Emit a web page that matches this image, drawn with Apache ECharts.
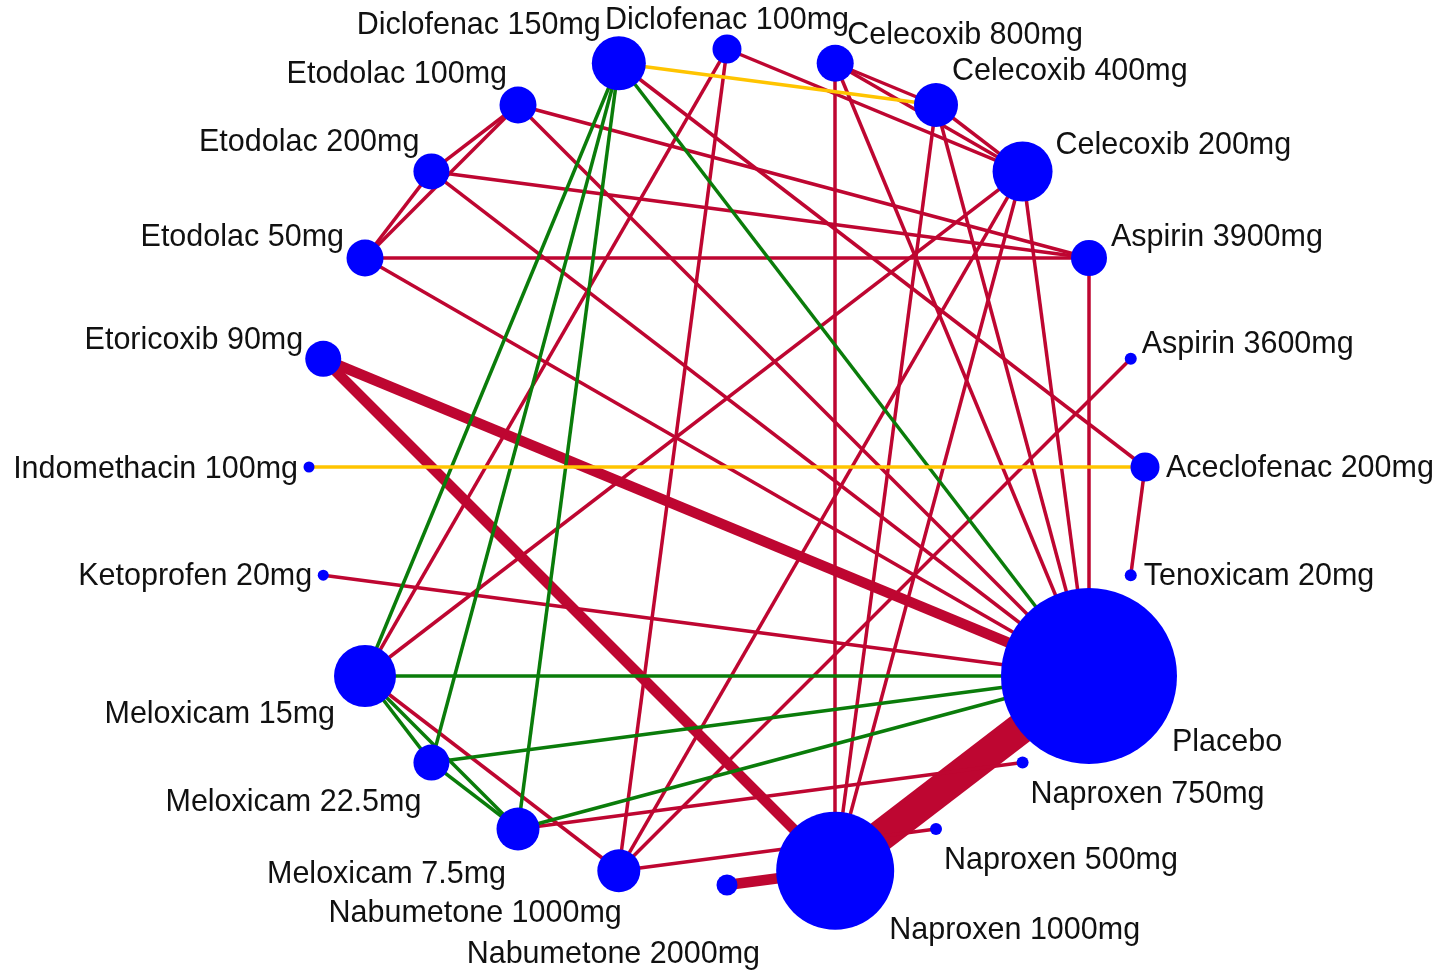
<!DOCTYPE html>
<html>
<head>
<meta charset="utf-8">
<title>Network plot</title>
<script src="https://cdn.jsdelivr.net/npm/echarts@6/dist/echarts.min.js"></script>
<style>
  html, body { margin: 0; padding: 0; background: #fff; }
  #chart { width: 1450px; height: 970px; }
</style>
</head>
<body>
<div id="chart"></div>
<script>
// treatments in order round the circle, clockwise from 3 o'clock
var treatments = [
    'Aceclofenac 200mg', 'Tenoxicam 20mg', 'Placebo', 'Naproxen 750mg',
    'Naproxen 500mg', 'Naproxen 1000mg', 'Nabumetone 2000mg', 'Nabumetone 1000mg',
    'Meloxicam 7.5mg', 'Meloxicam 22.5mg', 'Meloxicam 15mg', 'Ketoprofen 20mg',
    'Indomethacin 100mg', 'Etoricoxib 90mg', 'Etodolac 50mg', 'Etodolac 200mg',
    'Etodolac 100mg', 'Diclofenac 150mg', 'Diclofenac 100mg', 'Celecoxib 800mg',
    'Celecoxib 400mg', 'Celecoxib 200mg', 'Aspirin 3900mg', 'Aspirin 3600mg'
];
// node weight (circle size)
var nodeWeight = [29, 12, 176, 12, 12, 118, 21, 43, 43, 36, 62, 11,
                  11, 36, 37, 36, 37, 54, 29, 37, 44, 60, 36, 12];

// direct comparisons: [from, to, number of studies, group]
var comparisons = [
    ['Naproxen 1000mg', 'Placebo', 9, 'red'],
    ['Etoricoxib 90mg', 'Placebo', 3, 'red'],
    ['Etoricoxib 90mg', 'Naproxen 1000mg', 3, 'red'],
    ['Nabumetone 2000mg', 'Naproxen 1000mg', 3, 'red'],
    ['Aceclofenac 200mg', 'Tenoxicam 20mg', 1, 'red'],
    ['Diclofenac 150mg', 'Aceclofenac 200mg', 1, 'red'],
    ['Meloxicam 15mg', 'Nabumetone 1000mg', 1, 'red'],
    ['Meloxicam 15mg', 'Diclofenac 100mg', 1, 'red'],
    ['Meloxicam 15mg', 'Celecoxib 200mg', 1, 'red'],
    ['Meloxicam 7.5mg', 'Naproxen 750mg', 1, 'red'],
    ['Nabumetone 1000mg', 'Diclofenac 100mg', 1, 'red'],
    ['Nabumetone 1000mg', 'Celecoxib 200mg', 1, 'red'],
    ['Nabumetone 1000mg', 'Aspirin 3600mg', 1, 'red'],
    ['Nabumetone 1000mg', 'Naproxen 500mg', 1, 'red'],
    ['Naproxen 1000mg', 'Celecoxib 800mg', 1, 'red'],
    ['Naproxen 1000mg', 'Celecoxib 400mg', 1, 'red'],
    ['Naproxen 1000mg', 'Celecoxib 200mg', 1, 'red'],
    ['Placebo', 'Celecoxib 800mg', 1, 'red'],
    ['Placebo', 'Celecoxib 400mg', 1, 'red'],
    ['Placebo', 'Celecoxib 200mg', 1, 'red'],
    ['Placebo', 'Aspirin 3900mg', 1, 'red'],
    ['Placebo', 'Ketoprofen 20mg', 1, 'red'],
    ['Placebo', 'Etodolac 50mg', 1, 'red'],
    ['Placebo', 'Etodolac 200mg', 1, 'red'],
    ['Placebo', 'Etodolac 100mg', 1, 'red'],
    ['Etodolac 50mg', 'Etodolac 200mg', 1, 'red'],
    ['Etodolac 50mg', 'Etodolac 100mg', 1, 'red'],
    ['Etodolac 200mg', 'Etodolac 100mg', 1, 'red'],
    ['Etodolac 50mg', 'Aspirin 3900mg', 1, 'red'],
    ['Etodolac 200mg', 'Aspirin 3900mg', 1, 'red'],
    ['Etodolac 100mg', 'Aspirin 3900mg', 1, 'red'],
    ['Diclofenac 100mg', 'Celecoxib 200mg', 1, 'red'],
    ['Celecoxib 800mg', 'Celecoxib 400mg', 1, 'red'],
    ['Celecoxib 800mg', 'Celecoxib 200mg', 1, 'red'],
    ['Celecoxib 400mg', 'Celecoxib 200mg', 1, 'red'],
    ['Diclofenac 150mg', 'Meloxicam 15mg', 1, 'green'],
    ['Diclofenac 150mg', 'Meloxicam 22.5mg', 1, 'green'],
    ['Diclofenac 150mg', 'Meloxicam 7.5mg', 1, 'green'],
    ['Diclofenac 150mg', 'Placebo', 1, 'green'],
    ['Meloxicam 15mg', 'Placebo', 1, 'green'],
    ['Meloxicam 22.5mg', 'Placebo', 1, 'green'],
    ['Meloxicam 7.5mg', 'Placebo', 1, 'green'],
    ['Meloxicam 15mg', 'Meloxicam 22.5mg', 1, 'green'],
    ['Meloxicam 15mg', 'Meloxicam 7.5mg', 1, 'green'],
    ['Meloxicam 22.5mg', 'Meloxicam 7.5mg', 1, 'green'],
    ['Indomethacin 100mg', 'Aceclofenac 200mg', 1, 'yellow'],
    ['Diclofenac 150mg', 'Celecoxib 400mg', 1, 'yellow']
];

// styles
var groupColor = { red: '#BE0631', green: '#0A7C0A', yellow: '#FFC400' };
var widthPerStudy = 3.5;
// label anchor: [align, dx, dy] from node centre
var labelPlace = {
    'Aceclofenac 200mg': ['left', 21, 2],
    'Tenoxicam 20mg': ['left', 13, 1],
    'Placebo': ['left', 83, 67],
    'Naproxen 750mg': ['left', 8, 32],
    'Naproxen 500mg': ['left', 8, 32],
    'Naproxen 1000mg': ['left', 54, 60],
    'Nabumetone 2000mg': ['right', 33, 70],
    'Nabumetone 1000mg': ['right', 3, 43],
    'Meloxicam 7.5mg': ['right', -12, 46],
    'Meloxicam 22.5mg': ['right', -10, 40],
    'Meloxicam 15mg': ['right', -30, 39],
    'Ketoprofen 20mg': ['right', -11, 1],
    'Indomethacin 100mg': ['right', -11, 3],
    'Etoricoxib 90mg': ['right', -20, -18],
    'Etodolac 50mg': ['right', -21, -20],
    'Etodolac 200mg': ['right', -12, -29],
    'Etodolac 100mg': ['right', -11, -30],
    'Diclofenac 150mg': ['right', -18, -38],
    'Diclofenac 100mg': ['center', 0, -28],
    'Celecoxib 800mg': ['left', 12, -28],
    'Celecoxib 400mg': ['left', 16, -33],
    'Celecoxib 200mg': ['left', 33, -26],
    'Aspirin 3900mg': ['left', 22, -20],
    'Aspirin 3600mg': ['left', 11, -14]
};

var chart = echarts.init(document.getElementById('chart'));

var nodes = treatments.map(function (name, i) {
    var lp = labelPlace[name];
    return {
        name: name,
        value: [1, i],
        symbolSize: nodeWeight[i],
        label: {
            show: true,
            position: 'inside',
            align: lp[0],
            verticalAlign: 'middle',
            offset: [lp[1], lp[2]]
        }
    };
});

var links = comparisons.map(function (c) {
    return {
        source: c[0],
        target: c[1],
        lineStyle: {
            color: groupColor[c[3]],
            width: c[2] * widthPerStudy,
            opacity: 1
        }
    };
});

var option = {
    animation: false,
    backgroundColor: '#fff',
    polar: { center: [727, 467], radius: 418 },
    angleAxis: {
        type: 'category',
        data: treatments,
        startAngle: 0,
        clockwise: true,
        boundaryGap: false,
        show: false
    },
    radiusAxis: { type: 'value', min: 0, max: 1, show: false },
    series: [
        {
            type: 'graph',
            coordinateSystem: 'polar',
            layout: 'none',
            symbol: 'circle',
            itemStyle: { color: '#0000FF' },
            label: {
                color: '#111',
                fontSize: 30.5,
                fontFamily: '"Liberation Sans", Arial, sans-serif'
            },
            emphasis: { disabled: true },
            data: nodes,
            links: links,
            z: 2
        }
    ]
};

chart.setOption(option);
</script>
</body>
</html>
